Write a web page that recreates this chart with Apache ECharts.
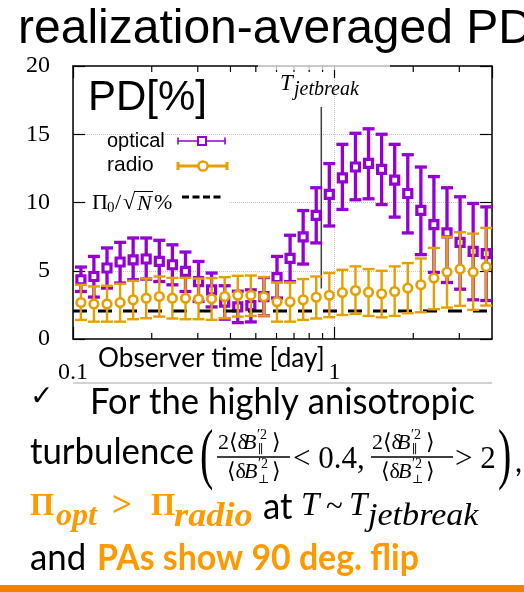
<!DOCTYPE html>
<html>
<head>
<meta charset="utf-8">
<script src="https://cdn.jsdelivr.net/npm/echarts@6.0.0/dist/echarts.min.js"></script>
<style>
html,body{margin:0;padding:0;background:#fff;overflow:hidden}
#chart{width:524px;height:592px}
</style>
</head>
<body>
<div id="chart"></div>
<script>
// ---------------- data ----------------
const timeDays = [0.1072,0.1202,0.1349,0.1514,0.1698,0.1905,0.2138,0.2399,0.2692,0.3020,
                  0.3388,0.3802,0.4266,0.4786,0.5370,0.6026,0.6761,0.7586,0.8511,0.9550,
                  1.0715,1.2023,1.3490,1.5136,1.6982,1.9055,2.1380,2.3988,2.6915,3.0200,
                  3.3884,3.8019];
const opticalPD   = [4.34,4.58,5.20,5.64,5.80,5.86,5.68,5.44,4.95,4.20,
                     3.60,2.70,2.35,2.45,3.10,4.50,5.90,7.48,9.06,10.59,
                     11.80,12.60,12.87,12.43,11.64,10.66,9.43,8.38,7.77,7.08,
                     6.42,6.25];
const opticalLow  = [3.48,3.07,3.73,4.10,4.34,4.39,4.21,3.97,3.48,2.75,
                     2.35,1.45,1.20,1.25,1.71,3.00,4.20,5.49,7.04,8.28,
                     9.49,10.20,10.27,9.85,8.93,7.77,6.18,4.88,4.14,3.65,
                     2.87,2.82];
const opticalHigh = [5.27,6.05,6.67,7.08,7.40,7.40,7.23,6.90,6.37,5.68,
                     4.83,3.90,3.50,3.60,4.50,6.05,7.60,9.41,11.08,12.85,
                     14.26,15.07,15.40,15.00,14.26,13.50,12.60,11.90,11.08,10.42,
                     9.93,9.68];
const radioPD     = [2.67,2.57,2.57,2.67,2.87,2.99,3.11,2.99,2.99,2.93,
                     2.94,3.11,3.21,3.21,3.09,2.72,2.72,2.87,3.06,3.20,
                     3.40,3.55,3.43,3.31,3.48,3.73,3.97,4.46,4.90,5.12,
                     4.90,5.30];
const radioLow    = [1.40,1.27,1.27,1.27,1.45,1.52,1.64,1.50,1.45,1.45,
                     1.40,1.52,1.64,1.69,1.71,1.27,1.27,1.40,1.50,1.60,
                     1.76,1.84,1.69,1.59,1.69,1.89,1.96,2.18,2.30,2.43,
                     2.13,2.45];
const radioHigh   = [3.97,3.85,3.90,4.04,4.26,4.43,4.58,4.48,4.48,4.43,
                     4.46,4.53,4.63,4.65,4.53,4.14,4.14,4.39,4.58,4.83,
                     5.07,5.32,5.12,5.00,5.32,5.56,5.90,6.67,7.48,7.82,
                     7.72,8.14];
const noiseTime   = [0.1, 4];
const noisePD     = [2.05, 2.05];
const jetBreakTime = [0.89, 0.89];
const jetBreakPD   = [3.7, 17.0];
const xMajorLabels = [0.1, 1];
const xMinorTicks  = [0.2,0.3,0.4,0.5,0.6,0.7,0.8,0.9,2,3];
const yTickValues  = [0, 5, 10, 15, 20];

// ---------------- styles ----------------
const PURPLE = '#9400d3';
const ORANGE = '#e69f00';
const SLIDE_ORANGE = '#ff9900';
const SERIF = '"Liberation Serif", "DejaVu Serif", serif';
const SANS = '"Liberation Sans", Arial, sans-serif';
const BODY = 'Lato, "Open Sans", sans-serif';

function errorBars(color, lw, capHalf, marker) {
  return function (params, api) {
    const t = api.value(0);
    const c = api.coord([t, api.value(1)]);
    const lo = api.coord([t, api.value(2)]);
    const hi = api.coord([t, api.value(3)]);
    const st = {stroke: color, lineWidth: lw};
    const children = [
      {type: 'line', shape: {x1: c[0], y1: lo[1], x2: c[0], y2: hi[1]}, style: st},
      {type: 'line', shape: {x1: c[0] - capHalf, y1: lo[1], x2: c[0] + capHalf, y2: lo[1]}, style: st},
      {type: 'line', shape: {x1: c[0] - capHalf, y1: hi[1], x2: c[0] + capHalf, y2: hi[1]}, style: st}
    ];
    if (marker === 'square') {
      children.push({type: 'rect', shape: {x: c[0] - 4, y: c[1] - 4, width: 8, height: 8},
        style: {fill: '#fff', stroke: color, lineWidth: 3.2}});
    } else {
      children.push({type: 'circle', shape: {cx: c[0], cy: c[1], r: 4.3},
        style: {fill: '#fff', stroke: color, lineWidth: 2.6}});
    }
    return {type: 'group', children: children};
  };
}

function minorTicks(params, api) {
  const x = api.coord([api.value(0), 1])[0];
  const cs = params.coordSys;
  const st = {stroke: '#000', lineWidth: 1.2};
  return {type: 'group', children: [
    {type: 'line', shape: {x1: x, y1: cs.y + cs.height, x2: x, y2: cs.y + cs.height - 6}, style: st},
    {type: 'line', shape: {x1: x, y1: cs.y, x2: x, y2: cs.y + 6}, style: st}
  ]};
}

function txt(x, y, text, font, fill, extra) {
  const el = {type: 'text', x: x, y: y, z: 101, silent: true,
    style: {text: text, font: font, fill: fill || '#000',
      align: 'left', verticalAlign: 'middle', textAlign: 'left', textVerticalAlign: 'middle'}};
  if (extra) Object.assign(el, extra);
  return el;
}
function seg(x1, y1, x2, y2, stroke, lw, dash, z) {
  return {type: 'line', z: z || 101, silent: true, shape: {x1: x1, y1: y1, x2: x2, y2: y2},
    style: {stroke: stroke, lineWidth: lw, lineDash: dash || null}};
}
function box(x, y, w, h, fill, z) {
  return {type: 'rect', z: z || 100, silent: true, shape: {x: x, y: y, width: w, height: h}, style: {fill: fill}};
}
function fraction(x0, barW) {
  const f = '22px ' + SERIF, fi = 'italic 22px ' + SERIF, fs = '14px ' + SERIF;
  return [
    txt(x0, 443, '2⟨δ', f),
    txt(x0 + 25, 443, 'B', fi),
    txt(x0 + 39, 435, '′2', fs),
    txt(x0 + 40, 450, '∥', '12px ' + SERIF),
    txt(x0 + 54, 443, '⟩', f),
    seg(x0 - 1, 457, x0 - 1 + barW, 457, '#000', 1.6),
    txt(x0 + 9, 472, '⟨δ', f),
    txt(x0 + 26, 472, 'B', fi),
    txt(x0 + 40, 464, '′2', fs),
    txt(x0 + 40, 480, '⊥', '12px ' + SERIF),
    txt(x0 + 54, 472, '⟩', f)
  ];
}

const graphics = [
  // slide title
  txt(18, 30, 'realization-averaged PD', '48px ' + SANS),
  // in-plot key
  txt(88, 98, 'PD[%]', '42px ' + SANS),
  txt(107, 141, 'optical', '20px ' + SANS),
  seg(178, 141, 225, 141, PURPLE, 1.6),
  seg(178, 137.5, 178, 144.5, PURPLE, 1.6),
  seg(225, 137.5, 225, 144.5, PURPLE, 1.6),
  {type: 'rect', z: 101, silent: true, shape: {x: 198, y: 137, width: 8, height: 8},
    style: {fill: '#fff', stroke: PURPLE, lineWidth: 2}},
  txt(107, 165, 'radio', '21px ' + SANS),
  seg(178, 166, 227, 166, ORANGE, 3),
  seg(178, 162, 178, 170, ORANGE, 3),
  seg(227, 162, 227, 170, ORANGE, 3),
  {type: 'circle', z: 101, silent: true, shape: {cx: 203, cy: 166, r: 4.6},
    style: {fill: '#fff', stroke: ORANGE, lineWidth: 2.5}},
  box(86, 188, 142, 24, '#fff', 100),
  txt(92, 203, 'Π', '22px ' + SERIF),
  txt(107, 208, '0', '15px ' + SERIF),
  txt(115, 203, '/', '22px ' + SERIF),
  txt(123, 203, '√', '22px ' + SERIF),
  seg(134, 191.5, 153, 191.5, '#000', 1),
  txt(137, 204, 'N', 'italic 22px ' + SERIF),
  txt(154, 203, '%', '22px ' + SERIF),
  seg(182, 197, 221, 197, '#000', 3, [7, 3.5]),
  // jet break label
  box(258, 62, 132, 8, 'rgba(255,255,255,0.72)', 100),
  txt(280, 84, 'T', 'italic 23px ' + SERIF),
  txt(294, 90, 'jetbreak', 'italic 20px ' + SERIF),
  // axis name
  txt(98, 358, 'Observer time [day]', '27px ' + BODY, '#000', {scaleX: 0.97}),
  seg(73, 383, 492, 383, '#a6a6a6', 1),
  // bullet text
  txt(30, 398, '✓', '28px "DejaVu Sans", sans-serif'),
  txt(90, 402, 'For the highly anisotropic', '37px ' + BODY, '#000', {scaleX: 0.935}),
  txt(30, 452, 'turbulence', '37px ' + BODY, '#000', {scaleX: 0.94}),
  txt(200, 458, '(', '40px ' + SERIF, '#000', {scaleY: 1.7}),
  txt(293, 460, '< 0.4,', '31px ' + SERIF),
  txt(455, 460, '> 2', '31px ' + SERIF),
  txt(498, 458, ')', '40px ' + SERIF, '#000', {scaleY: 1.7}),
  txt(515, 462, ',', '31px ' + BODY),
  txt(30, 507, 'Π', 'bold 31px ' + SERIF, SLIDE_ORANGE),
  txt(56, 517, 'opt', 'bold italic 32px ' + SERIF, SLIDE_ORANGE),
  txt(112, 507, '>', 'bold 35px ' + SERIF, SLIDE_ORANGE),
  txt(151, 507, 'Π', 'bold 31px ' + SERIF, SLIDE_ORANGE),
  txt(174, 517, 'radio', 'bold italic 33px ' + SERIF, SLIDE_ORANGE, {scaleX: 1.1}),
  txt(263, 507, 'at', '37px ' + BODY, '#000', {scaleX: 0.94}),
  txt(301, 506, 'T', 'italic 33px ' + SERIF),
  txt(326, 508, '~', '31px ' + SERIF),
  txt(349, 506, 'T', 'italic 33px ' + SERIF),
  txt(368, 517, 'jetbreak', 'italic 31px ' + SERIF, '#000', {scaleX: 1.1}),
  txt(30, 558, 'and', '37px ' + BODY, '#000', {scaleX: 0.94}),
  txt(97, 558, 'PAs show 90 deg. flip', 'bold 37px ' + BODY, SLIDE_ORANGE, {scaleX: 0.915}),
  box(0, 585, 524, 7, '#f08200', 100)
].concat(fraction(218, 73), fraction(372, 82));

const xBase = {
  type: 'log', logBase: 10, min: 0.1, max: 4,
  axisLine: {show: true, onZero: false, lineStyle: {color: '#000', width: 1.5}},
  axisTick: {show: true, inside: true, length: 12, lineStyle: {color: '#000', width: 1.2}},
  splitLine: {show: false}
};
const yBase = {
  type: 'value', min: yTickValues[0], max: yTickValues[yTickValues.length - 1],
  interval: yTickValues[1] - yTickValues[0],
  axisLine: {show: true, lineStyle: {color: '#000', width: 1.5}},
  axisTick: {show: true, inside: true, length: 12, lineStyle: {color: '#000', width: 1.2}},
  splitLine: {show: false}
};

const option = {
  animation: false,
  backgroundColor: '#fff',
  grid: {left: 73, right: 32, top: 66, bottom: 253, containLabel: false},
  xAxis: [
    Object.assign({}, xBase, {
      position: 'bottom',
      axisLabel: {show: true, margin: 22, color: '#000', fontFamily: SERIF, fontSize: 24,
        showMaxLabel: false,
        formatter: function (v) {
          for (const m of xMajorLabels) { if (Math.abs(v - m) < 1e-6) return String(m); }
          return '';
        }},
      splitLine: {show: true, lineStyle: {color: '#c4c4c4', type: 'dotted', width: 1}}
    }),
    Object.assign({}, xBase, {position: 'top', axisLabel: {show: false}})
  ],
  yAxis: [
    Object.assign({}, yBase, {
      position: 'left',
      axisLabel: {show: true, margin: 23, color: '#000', fontFamily: SERIF, fontSize: 24},
      splitLine: {show: true, showMinLine: false, showMaxLine: false,
        lineStyle: {color: '#c4c4c4', type: 'dotted', width: 1}}
    }),
    Object.assign({}, yBase, {position: 'right', axisLabel: {show: false}})
  ],
  graphic: {elements: graphics},
  series: [
    {
      type: 'custom', name: 'minor ticks', silent: true, z: 1,
      data: xMinorTicks.map(v => [v, 0]),
      encode: {x: 0, y: 1},
      renderItem: minorTicks
    },
    {
      type: 'custom', name: 'optical', silent: true, z: 3,
      data: timeDays.map((t, i) => [t, opticalPD[i], opticalLow[i], opticalHigh[i]]),
      encode: {x: 0, y: [1, 2, 3]},
      renderItem: errorBars(PURPLE, 3.3, 6, 'square')
    },
    {
      type: 'line', name: 'noise', silent: true, z: 4, symbol: 'none',
      data: noiseTime.map((t, i) => [t, noisePD[i]]),
      lineStyle: {color: '#000', width: 3, type: [14, 11]}
    },
    {
      type: 'custom', name: 'radio', silent: true, z: 5,
      data: timeDays.map((t, i) => [t, radioPD[i], radioLow[i], radioHigh[i]]),
      encode: {x: 0, y: [1, 2, 3]},
      renderItem: errorBars(ORANGE, 2.4, 6, 'circle')
    },
    {
      type: 'line', name: 'jet break', silent: true, z: 2, symbol: 'none',
      data: jetBreakTime.map((t, i) => [t, jetBreakPD[i]]),
      lineStyle: {color: '#404040', width: 1.5}
    }
  ]
};

const chart = echarts.init(document.getElementById('chart'), null, {renderer: 'canvas'});
chart.setOption(option);
</script>
</body>
</html>
